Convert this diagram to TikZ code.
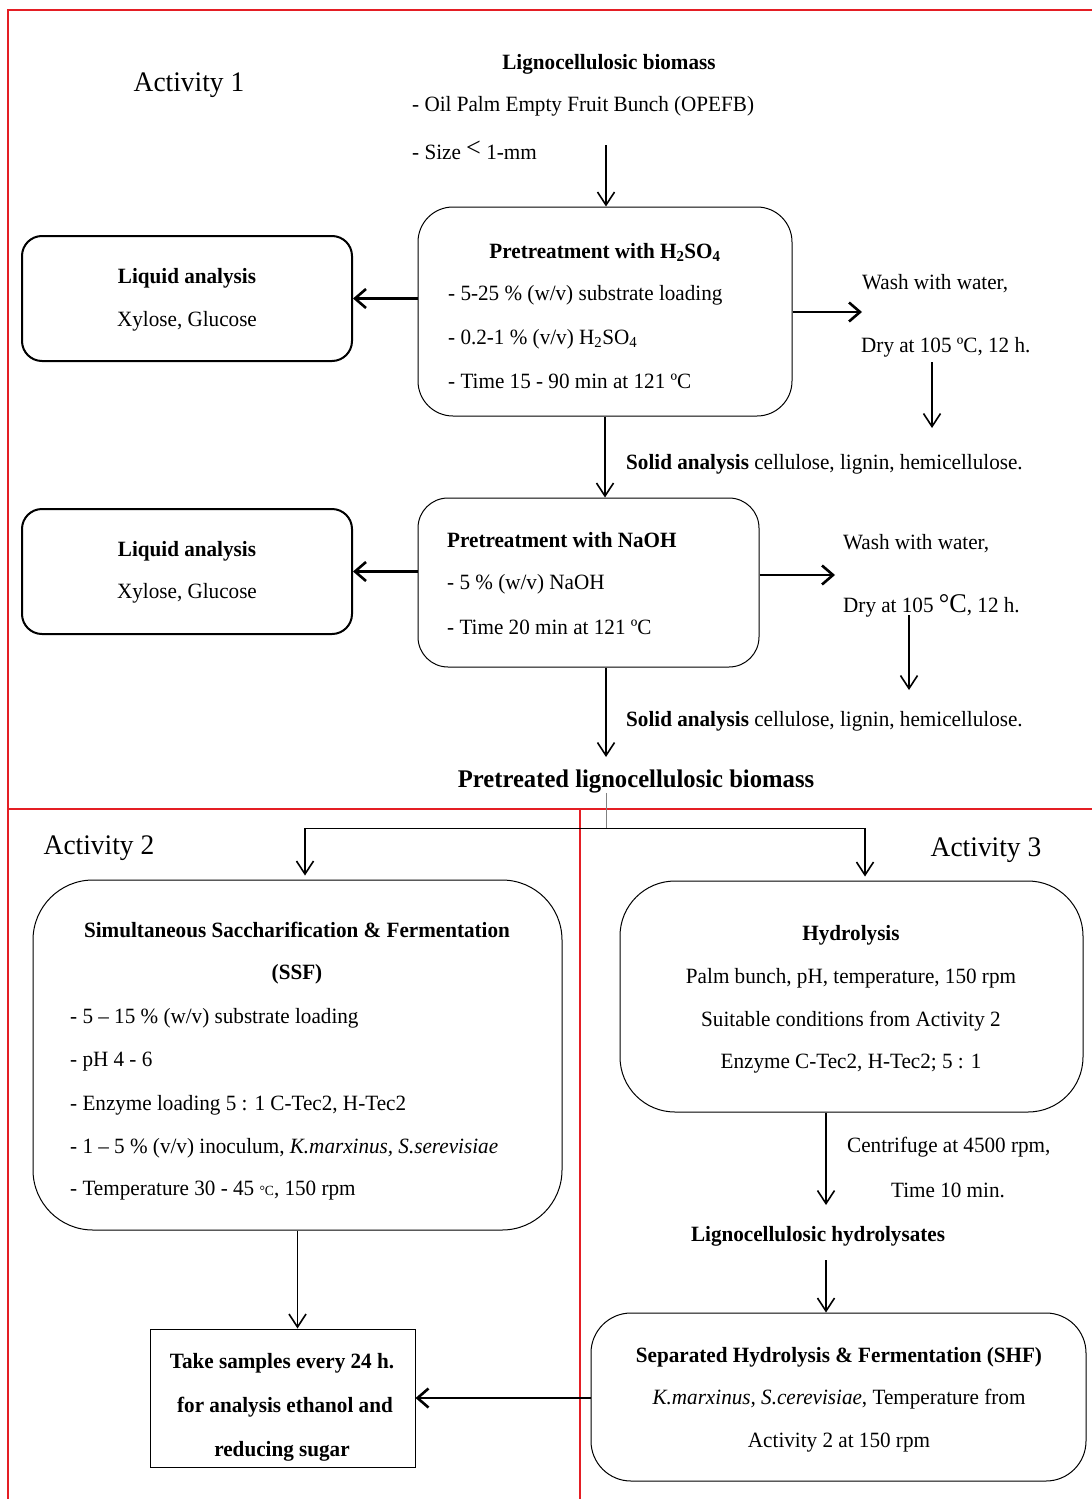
\documentclass[tikz,border=0pt]{standalone}
\usepackage{fontspec}
\setmainfont{Liberation Serif}[FakeStretch=0.97]
\usetikzlibrary{arrows.meta}
\begin{document}
\begin{tikzpicture}[x=1pt,y=-1pt,
  every node/.style={font=\fontsize{21.8}{24}\selectfont, inner sep=0pt},
  lt/.style={anchor=west},
  bt/.style={font=\fontsize{21.8}{24}\selectfont\bfseries},
  act/.style={font=\fontsize{28.3}{32}\selectfont},
  redline/.style={draw={rgb,255:red,228;green,30;blue,36}, line width=1.1pt},
  rbox/.style={draw, line width=1pt, rectangle},
  lbox/.style={draw, line width=2pt, rectangle, rounded corners=20pt, minimum width=330pt, minimum height=125pt},
  arr/.style={-{Straight Barb[length=13pt,width=17pt]}, line width=1.6pt},
  tarr/.style={-{Straight Barb[length=11pt,width=19pt]}, line width=2.6pt}
]
\useasboundingbox (0,0) rectangle (1092,1499);
% red frame
\draw[redline] (8,1499) -- (8,10) -- (1092,10);
\draw[redline] (8,809) -- (1092,809);
\draw[redline] (580,809) -- (580,1499);

% Activity labels
\node[act] (a1) at (189,85) {Activity 1};
\node[act] (a2) at (99,848) {Activity 2};
\node[act] (a3) at (986,850) {Activity 3};

% biomass
\node[bt] (lb) at (609,64) {Lignocellulosic biomass};
\node[lt] (opefb) at (412,106) {- Oil Palm Empty Fruit Bunch (OPEFB)};
\node[lt] (size) at (412,150) {- Size \raisebox{3pt}{\fontsize{27}{27}\selectfont<} 1-mm};
\coordinate (top) at (606,145);

% H2SO4 box
\node[rbox, rounded corners=35pt, minimum width=374pt, minimum height=209pt] (h2so4) at (605,311.5) {};
\node[bt] (h2t) at (605,252) {Pretreatment with H\textsubscript{2}SO\textsubscript{4}};
\node[lt] (h2a) at (448,295) {- 5-25 \% (w/v) substrate loading};
\node[lt] (h2b) at (448,339) {- 0.2-1 \% (v/v) H\textsubscript{2}SO\textsubscript{4}};
\node[lt] (h2c) at (448,381) {- Time 15 - 90 min at 121 ºC};

% Liquid analysis 1
\node[lbox] (liq1) at (187,298.5) {};
\node[bt] (l1t) at (187,278) {Liquid analysis};
\node (l1a) at (187,321) {Xylose, Glucose};

% wash 1
\node[lt] (w1) at (862,284) {Wash with water,};
\node[lt] (d1) at (861,347) {Dry at 105 ºC, 12 h.};
\coordinate (w1e) at (862,312);
\coordinate (d1s) at (932,362);
\coordinate (d1e) at (932,428);

% solid analysis 1
\node[lt] (s1) at (626,464) {\textbf{Solid analysis} cellulose, lignin, hemicellulose.};

% NaOH box
\node[rbox, rounded corners=30pt, minimum width=341pt, minimum height=169pt] (naoh) at (588.5,582.5) {};
\node[bt, anchor=west] (nat) at (447,540) {Pretreatment with NaOH};
\node[lt] (naa) at (447,584) {- 5 \% (w/v) NaOH};
\node[lt] (nab) at (447,627) {- Time 20 min at 121 ºC};

% Liquid analysis 2
\node[lbox] (liq2) at (187,571.5) {};
\node[bt] (l2t) at (187,551) {Liquid analysis};
\node (l2a) at (187,593) {Xylose, Glucose};

% wash 2
\node[lt] (w2) at (843,544) {Wash with water,};
\node[lt] (d2) at (843,606) {Dry at 105 {\fontsize{27}{27}\selectfont °C}, 12 h.};
\coordinate (w2e) at (835,575);
\coordinate (d2s) at (909,615);
\coordinate (d2e) at (909,690);

% solid analysis 2
\node[lt] (s2) at (626,721) {\textbf{Solid analysis} cellulose, lignin, hemicellulose.};
\coordinate (nd) at (606,757);

% pretreated biomass
\node[font=\fontsize{25.4}{28}\selectfont\bfseries] (ptb) at (636,781) {Pretreated lignocellulosic biomass};
\coordinate (split) at (606,828);
\coordinate (sL) at (305,828);
\coordinate (sR) at (865,828);

% SSF
\node[rbox, rounded corners=60pt, minimum width=529pt, minimum height=350pt] (ssf) at (297.5,1055) {};
\node[bt] (ssft) at (297,930) {Simultaneous Saccharification \& Fermentation};
\node[bt] (ssft2) at (297,974) {(SSF)};
\node[lt] (ssfa) at (70,1018) {- 5 – 15 \% (w/v) substrate loading};
\node[lt] (ssfb) at (70,1062) {- pH 4 - 6};
\node[lt] (ssfc) at (70,1105) {- Enzyme loading 5 : 1 C-Tec2, H-Tec2};
\node[lt] (ssfd) at (70,1148) {- 1 – 5 \% (v/v) inoculum, \textit{K.marxinus, S.serevisiae}};
\node[lt] (ssfe) at (70,1191) {- Temperature 30 - 45 {\fontsize{14}{14}\selectfont °C}, 150 rpm};

% Take samples
\node[rbox, minimum width=265pt, minimum height=138pt] (take) at (282.5,1398) {};
\node[bt] (ta) at (282,1363) {Take samples every 24 h.};
\node[bt] (tb) at (285,1407) {for analysis ethanol and};
\node[bt] (tc) at (282,1451) {reducing sugar};

% Hydrolysis
\node[rbox, rounded corners=55pt, minimum width=463pt, minimum height=231pt] (hyd) at (851.5,996.5) {};
\node[bt] (hydt) at (851,935) {Hydrolysis};
\node (hyda) at (851,978) {Palm bunch, pH, temperature, 150 rpm};
\node (hydb) at (851,1021) {Suitable conditions from Activity 2};
\node (hydc) at (851,1064) {Enzyme C-Tec2, H-Tec2; 5 : 1};
\node[lt] (cen) at (847,1147) {Centrifuge at 4500 rpm,};
\node (tim) at (948,1190) {Time 10 min.};
\coordinate (hx) at (826,1205);
\node[bt] (lh) at (818,1236) {Lignocellulosic hydrolysates};
\coordinate (hx2) at (826,1260);

% SHF
\node[rbox, rounded corners=40pt, minimum width=495pt, minimum height=168pt] (shf) at (838.5,1397) {};
\node[bt] (shft) at (839,1357) {Separated Hydrolysis \& Fermentation (SHF)};
\node (shfa) at (839,1399) {\textit{K.marxinus, S.cerevisiae}, Temperature from};
\node (shfb) at (839,1443) {Activity 2 at 150 rpm};

% connectors
\draw[arr] (top) -- (top |- h2so4.north);
\draw[tarr] (h2so4.west |- liq1) -- (liq1.east);
\draw[tarr] (h2so4.east |- w1e) -- (w1e);
\draw[arr] (d1s) -- (d1e);
\draw[arr] (h2so4.south) -- (h2so4.south |- naoh.north);
\draw[tarr] (naoh.west |- liq2) -- (liq2.east);
\draw[tarr] (naoh.east |- w2e) -- (w2e);
\draw[arr] (d2s) -- (d2e);
\draw[arr] (nd |- naoh.south) -- (nd);
\draw[gray, line width=1pt] (split |- ptb.south) -- (split);
\draw[line width=1pt] (sL) -- (sR);
\draw[arr] (sL) -- ([yshift=4pt]sL |- ssf.north);
\draw[arr] (sR) -- ([yshift=4pt]sR |- hyd.north);
\draw[arr] (ssf.south) -- (ssf.south |- take.north);
\draw[arr] (hx |- hyd.south) -- (hx);
\draw[arr] (hx2) -- (hx2 |- shf.north);
\draw[tarr] (shf.west |- take) -- (take.east);
\end{tikzpicture}
\end{document}
